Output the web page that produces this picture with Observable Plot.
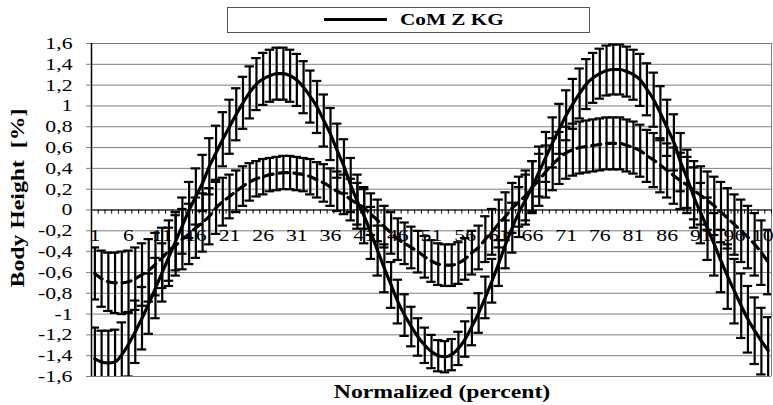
<!DOCTYPE html>
<html><head><meta charset="utf-8">
<script src="https://cdn.jsdelivr.net/npm/d3@7"></script>
<script src="https://cdn.jsdelivr.net/npm/@observablehq/plot@0.6"></script>
<style>
body{margin:0;background:#fff;overflow:hidden}
#wrap{position:relative;width:773px;height:405px;font-family:"Liberation Serif","Times New Roman",serif;color:#000}
#legend{position:absolute;left:227px;top:7px;width:363px;height:26px;border:1px solid #555;box-sizing:border-box;background:#fff}
#legend .sw{position:absolute;left:96px;top:10px;width:63px;height:3px;background:#000}
#legend .lb{position:absolute;left:172px;top:1px;font-weight:bold;font-size:17px;line-height:21px;white-space:nowrap;transform:scaleX(1.25);transform-origin:left center}
#ytitle{position:absolute;left:18px;top:198px;transform:translate(-50%,-50%) rotate(-90deg) scaleX(1.25);font-weight:bold;font-size:19px;white-space:pre}
#xtitle{position:absolute;left:442px;top:392px;transform:translate(-50%,-50%) scaleX(1.25);font-weight:bold;font-size:19px;white-space:nowrap}
#chart{position:absolute;left:0;top:0}
#chart svg text{font-family:"Liberation Serif","Times New Roman",serif !important}
</style></head>
<body><div id="wrap"><div id="chart"></div>
<div id="legend"><div class="sw"></div><div class="lb">CoM Z KG</div></div>
<div id="ytitle">Body Height  [%]</div>
<div id="xtitle">Normalized (percent)</div>
</div>
<script>
const categories = d3.range(1, 102);
const xTickLabels = ["1","6","11","16","21","26","31","36","41","46","51","56","61","66","71","76","81","86","91","96","101"];
const yTicks = [-1.6,-1.4,-1.2,-1,-0.8,-0.6,-0.4,-0.2,0,0.2,0.4,0.6,0.8,1,1.2,1.4,1.6];

const seriesKG = [
-1.43,-1.46,-1.47,-1.46,-1.39,-1.29,-1.17,-1.04,-0.90,-0.75,
-0.60,-0.45,-0.30,-0.15,0.00,0.13,0.26,0.42,0.55,0.68,
0.80,0.92,1.03,1.13,1.21,1.26,1.29,1.31,1.31,1.29,
1.25,1.18,1.09,0.99,0.86,0.73,0.57,0.42,0.24,0.08,
-0.06,-0.22,-0.39,-0.56,-0.72,-0.88,-1.01,-1.12,-1.22,-1.30,
-1.36,-1.40,-1.41,-1.39,-1.33,-1.24,-1.12,-0.99,-0.84,-0.68,
-0.51,-0.33,-0.17,-0.02,0.10,0.23,0.37,0.51,0.65,0.78,
0.91,1.02,1.12,1.21,1.27,1.31,1.34,1.35,1.35,1.33,
1.30,1.25,1.16,1.06,0.93,0.79,0.65,0.46,0.30,0.12,
-0.03,-0.18,-0.33,-0.49,-0.64,-0.78,-0.92,-1.05,-1.16,-1.26,-1.35];
const errKG = [
0.30,0.30,0.31,0.31,0.31,0.31,0.30,0.30,0.29,0.29,
0.28,0.28,0.28,0.27,0.27,0.27,0.27,0.27,0.26,0.26,
0.26,0.25,0.25,0.25,0.25,0.25,0.25,0.25,0.25,0.25,
0.25,0.25,0.25,0.25,0.25,0.25,0.26,0.26,0.26,0.26,
0.26,0.25,0.24,0.23,0.22,0.21,0.20,0.19,0.18,0.17,
0.16,0.15,0.15,0.15,0.16,0.17,0.18,0.19,0.20,0.21,
0.22,0.23,0.24,0.24,0.24,0.24,0.24,0.24,0.24,0.24,
0.24,0.24,0.24,0.24,0.24,0.24,0.24,0.24,0.24,0.24,
0.24,0.25,0.25,0.26,0.26,0.27,0.27,0.28,0.28,0.29,
0.29,0.30,0.30,0.30,0.31,0.31,0.31,0.32,0.32,0.32,0.32];

const seriesDashed = [
-0.61,-0.66,-0.69,-0.70,-0.70,-0.69,-0.66,-0.62,-0.58,-0.52,
-0.46,-0.39,-0.34,-0.28,-0.23,-0.17,-0.12,-0.06,0.02,0.08,
0.13,0.18,0.23,0.27,0.30,0.32,0.34,0.35,0.36,0.36,
0.35,0.34,0.32,0.29,0.26,0.22,0.18,0.15,0.10,0.06,
0.02,-0.04,-0.10,-0.16,-0.22,-0.28,-0.32,-0.36,-0.40,-0.45,
-0.49,-0.52,-0.53,-0.53,-0.51,-0.47,-0.41,-0.36,-0.28,-0.21,
-0.13,-0.06,0.02,0.08,0.14,0.22,0.29,0.37,0.44,0.50,
0.55,0.58,0.60,0.61,0.62,0.63,0.64,0.64,0.64,0.62,
0.60,0.57,0.52,0.48,0.43,0.38,0.33,0.28,0.24,0.19,
0.14,0.09,0.04,-0.02,-0.08,-0.14,-0.20,-0.26,-0.33,-0.41,-0.50];
const errDashed = [
0.25,0.27,0.28,0.29,0.30,0.30,0.30,0.30,0.30,0.30,
0.29,0.29,0.29,0.29,0.29,0.29,0.28,0.27,0.25,0.23,
0.21,0.20,0.19,0.18,0.17,0.17,0.16,0.16,0.16,0.16,
0.16,0.16,0.17,0.17,0.18,0.18,0.19,0.19,0.20,0.20,
0.20,0.20,0.20,0.20,0.20,0.20,0.20,0.20,0.20,0.20,
0.20,0.20,0.20,0.20,0.20,0.20,0.21,0.21,0.22,0.22,
0.23,0.23,0.24,0.24,0.24,0.25,0.25,0.25,0.25,0.25,
0.25,0.25,0.25,0.25,0.25,0.25,0.25,0.25,0.25,0.25,
0.25,0.25,0.25,0.26,0.26,0.26,0.27,0.27,0.27,0.28,
0.28,0.28,0.28,0.29,0.29,0.29,0.30,0.30,0.30,0.31,0.31];

const kg = categories.map((c, i) => ({x: c, y: seriesKG[i], lo: seriesKG[i] - errKG[i], hi: seriesKG[i] + errKG[i]}));
const dsh = categories.map((c, i) => ({x: c, y: seriesDashed[i], lo: seriesDashed[i] - errDashed[i], hi: seriesDashed[i] + errDashed[i]}));
const all = kg.concat(dsh);
const capHalf = 0.7;
const labelData = xTickLabels.map(s => ({x: +s, t: s}));
const minorTicks = categories.map(c => ({x: c + 0.5}));

const fmt = v => (Math.abs(v) < 1e-9 ? "0" : String(+v.toFixed(1)).replace(".", ",").replace("\u2212", "-"));

const chart = Plot.plot({
  width: 773, height: 405,
  marginLeft: 91, marginRight: 2, marginTop: 43, marginBottom: 29,
  style: {fontFamily: "Liberation Serif, serif", fontSize: "17px", background: "transparent", color: "#000"},
  x: {type: "linear", domain: [0.5, 101.5], axis: null},
  y: {type: "linear", domain: [-1.6, 1.6], axis: null},
  marks: [
    Plot.gridY(yTicks, {stroke: "#7f7f7f", strokeOpacity: 1, strokeWidth: 1}),
    Plot.axisY(yTicks, {tickFormat: fmt, tickSize: 5, tickPadding: 14, stroke: "#7f7f7f", fontSize: 17, fill: "#000", label: null}),
    Plot.ruleX([101.5], {stroke: "#7f7f7f", strokeWidth: 1}),
    Plot.text(labelData, {x: "x", y: () => 0, text: "t", dy: 26, fontSize: 17, fill: "#000"}),
    Plot.ruleY([0], {stroke: "#000", strokeWidth: 1}),
    Plot.ruleX(minorTicks, {x: "x", y1: () => 0, y2: () => -0.04, strokeWidth: 1, stroke: "#000"}),
    Plot.ruleX(all, {x: "x", y1: "lo", y2: "hi", stroke: "#000", strokeWidth: 2.2, clip: true}),
    Plot.ruleY(all, {x1: d => d.x - capHalf, x2: d => d.x + capHalf, y: "hi", stroke: "#000", strokeWidth: 2.2, clip: true}),
    Plot.ruleY(all, {x1: d => d.x - capHalf, x2: d => d.x + capHalf, y: "lo", stroke: "#000", strokeWidth: 2.2, clip: true}),
    Plot.line(dsh, {x: "x", y: "y", stroke: "#000", strokeWidth: 3.2, strokeDasharray: "9,6", curve: "monotone-x", clip: true}),
    Plot.line(kg, {x: "x", y: "y", stroke: "#000", strokeWidth: 3.2, curve: "monotone-x", clip: true}),
    Plot.ruleX([0.5], {stroke: "#000", strokeWidth: 1.5})
  ]
});
document.getElementById("chart").appendChild(chart);
// horizontal stretch of tick text, as in the reference rendering
chart.querySelectorAll("text").forEach(t => {
  const L = t.getComputedTextLength();
  if (L > 0) {
    t.setAttribute("textLength", (L * 1.28).toFixed(1));
    t.setAttribute("lengthAdjust", "spacingAndGlyphs");
  }
});
</script>
</body></html>
